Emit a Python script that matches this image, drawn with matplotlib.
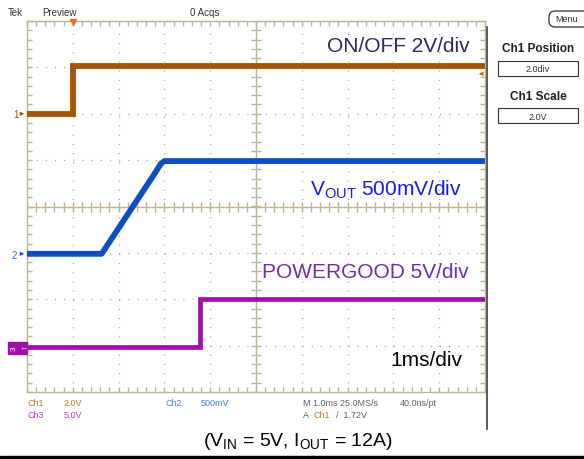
import numpy as np
import matplotlib.pyplot as plt
from matplotlib.lines import Line2D
from matplotlib.patches import Rectangle, FancyBboxPatch
from matplotlib.ticker import MultipleLocator

plt.rcParams['font.family'] = ['Liberation Sans', 'DejaVu Sans']
plt.rcParams['mathtext.fontset'] = 'custom'
plt.rcParams['mathtext.rm'] = 'Liberation Sans'
plt.rcParams['mathtext.it'] = 'Liberation Sans'

# time in ms (trigger at 0), voltages in V
t_ch1 = [-1.0, 0.0, 0.0, 9.0]
v_ch1 = [0.0, 0.0, 2.08, 2.08]
t_ch2 = [-1.0, 0.63, 1.82, 1.92, 2.0, 9.0]
v_ch2 = [0.0, 0.0, 0.89, 0.97, 1.0, 1.0]
t_ch3 = [-1.0, 2.77, 2.77, 9.0]
v_ch3 = [0.0, 0.0, 5.2, 5.2]

# channel scale (V/div) and position (div)
scale = {'ch1': 2.0, 'ch2': 0.5, 'ch3': 5.0}
pos = {'ch1': 2.0, 'ch2': -1.02, 'ch3': -3.04}
trig_level = 1.72

C1 = '#a95300'
C2 = '#0d4fc2'
C3 = '#a010a8'
GRAT = '#bdb594'

W, H = 584, 460
fx = lambda px: px / W
fy = lambda py: 1 - py / H

fig = plt.figure(figsize=(5.84, 4.6), dpi=100)
fig.patch.set_facecolor('white')
ax = fig.add_axes([fx(27), fy(393), 458 / W, 371 / H])
ax.set_xlim(-1, 9)
ax.set_ylim(-4, 4)

# graticule
for xv in range(0, 9):
    if xv != 4:
        ax.axvline(xv, color='#a8a890', lw=1, ls=(0, (0.8, 5.8)), zorder=1)
for yv in range(-3, 4):
    if yv != 0:
        ax.axhline(yv, color='#a8a890', lw=1, ls=(0, (0.8, 5.8)), zorder=1)
ax.axvline(4, color=GRAT, lw=1, zorder=1)
ax.axhline(0, color=GRAT, lw=1, zorder=1)
xt = np.arange(-1, 9.01, 0.2)
yt = np.arange(-4, 4.01, 0.2)
ax.plot(xt, np.zeros_like(xt), ls='none', marker='|', ms=7, mew=1, color=GRAT, zorder=1)
ax.plot(np.full_like(yt, 4), yt, ls='none', marker='_', ms=7, mew=1, color=GRAT, zorder=1)

for s in ax.spines.values():
    s.set_color(GRAT)
    s.set_linewidth(1)
ax.xaxis.set_major_locator(MultipleLocator(1))
ax.xaxis.set_minor_locator(MultipleLocator(0.2))
ax.yaxis.set_major_locator(MultipleLocator(1))
ax.yaxis.set_minor_locator(MultipleLocator(0.2))
ax.tick_params(which='both', direction='in', length=3.5, width=1, color=GRAT,
               top=True, right=True, labelleft=False, labelbottom=False)

# traces
ax.plot(t_ch1, np.array(v_ch1) / scale['ch1'] + pos['ch1'], color=C1, lw=4.2,
        solid_joinstyle='miter', solid_capstyle='butt', zorder=3)
ax.plot(t_ch2, np.array(v_ch2) / scale['ch2'] + pos['ch2'], color=C2, lw=4.2, zorder=3)
ax.plot(t_ch3, np.array(v_ch3) / scale['ch3'] + pos['ch3'], color=C3, lw=3.4,
        solid_joinstyle='miter', solid_capstyle='butt', zorder=3)

# trigger markers
ax.plot([0], [3.97], marker='v', ms=5, color='#f07020', clip_on=False, zorder=4)
ax.annotate('', xy=(8.8, trig_level / scale['ch1'] + pos['ch1']),
            xytext=(9.0, trig_level / scale['ch1'] + pos['ch1']),
            arrowprops=dict(arrowstyle='-|>', color='#d06a20', lw=1, mutation_scale=5))

# channel ground markers
ax.annotate('', xy=(-1, pos['ch1']), xytext=(-1.18, pos['ch1']), annotation_clip=False,
            arrowprops=dict(arrowstyle='-|>', color=C1, lw=0.8, mutation_scale=5))
fig.text(fx(13), fy(115), '1', color=C1, fontsize=7, va='center', ha='left')
ax.annotate('', xy=(-1, pos['ch2']), xytext=(-1.18, pos['ch2']), annotation_clip=False,
            arrowprops=dict(arrowstyle='-|>', color=C2, lw=0.8, mutation_scale=5))
fig.text(fx(12), fy(256), '2', color='#4070d0', fontsize=7, va='center', ha='left')
fig.patches.append(Rectangle((fx(8), fy(355)), fx(19), 12 / H, transform=fig.transFigure,
                             color=C3, zorder=2))
fig.text(fx(14), fy(349), '3', color='white', fontsize=6, va='center', ha='center',
         rotation=90, zorder=3)
fig.text(fx(23), fy(349), '\u2190', color='white', fontsize=6, va='center', ha='center', zorder=3)

# labels on screen
fig.text(fx(470), fy(46), 'ON/OFF 2V/div', color='#2a2a5e', fontsize=15, ha='right', va='center')
fig.text(fx(462), fy(190), 'V$_{\\mathrm{OUT}}$ 500mV/div', color='#1a1ae0', fontsize=15,
         ha='right', va='center')
fig.text(fx(469), fy(273), 'POWERGOOD 5V/div', color='#7030a0', fontsize=15, ha='right', va='center')
fig.text(fx(462), fy(360), '1ms/div', color='black', fontsize=15, ha='right', va='center')

# top status line
fig.text(fx(8), fy(13), 'Tek', color='#303030', fontsize=7, va='center')
fig.text(fx(42), fy(13), 'Preview', color='#303030', fontsize=7, va='center')
fig.text(fx(190), fy(13), '0 Acqs', color='#303030', fontsize=7, va='center')

# right side panel
fig.add_artist(Line2D([fx(487), fx(487)], [fy(28), fy(430)], color='#404040', lw=1.2))
fig.patches.append(FancyBboxPatch((5.49, (H - 28) / 100), 0.45, 0.16,
                                  boxstyle='round,pad=0,rounding_size=0.06',
                                  transform=fig.dpi_scale_trans, fc='white', ec='#303030', lw=0.9))
fig.text(fx(567), fy(20), 'Menu', color='#303030', fontsize=6.5, ha='center', va='center')
fig.text(fx(538), fy(49), 'Ch1 Position', color='#202020', fontsize=8.5, fontweight='bold',
         ha='center', va='center')
fig.patches.append(Rectangle((fx(498), fy(77)), fx(80), 15 / H, transform=fig.transFigure,
                             fc='white', ec='#303030', lw=0.8))
fig.text(fx(538), fy(70), '2.0div', color='#303030', fontsize=6.5, ha='center', va='center')
fig.text(fx(538), fy(97), 'Ch1 Scale', color='#202020', fontsize=8.5, fontweight='bold',
         ha='center', va='center')
fig.patches.append(Rectangle((fx(498), fy(124)), fx(80), 15 / H, transform=fig.transFigure,
                             fc='white', ec='#303030', lw=0.8))
fig.text(fx(538), fy(117), '2.0V', color='#303030', fontsize=6.5, ha='center', va='center')

# bottom readouts
fig.text(fx(27), fy(404), 'Ch1', color='#c07830', fontsize=6.5, va='center')
fig.text(fx(64), fy(404), '2.0V', color='#c07830', fontsize=6.5, va='center')
fig.text(fx(27), fy(416), 'Ch3', color='#b040c0', fontsize=6.5, va='center')
fig.text(fx(64), fy(416), '5.0V', color='#b040c0', fontsize=6.5, va='center')
fig.text(fx(165), fy(404), 'Ch2', color='#4080d0', fontsize=6.5, va='center')
fig.text(fx(201), fy(404), '500mV', color='#4080d0', fontsize=6.5, va='center')
fig.text(fx(303), fy(404), 'M 1.0ms 25.0MS/s', color='#606060', fontsize=6.5, va='center')
fig.text(fx(400), fy(404), '40.0ns/pt', color='#606060', fontsize=6.5, va='center')
fig.text(fx(303), fy(416), 'A', color='#606060', fontsize=6.5, va='center')
fig.text(fx(313), fy(416), 'Ch1', color='#c07830', fontsize=6.5, va='center')
fig.text(fx(336), fy(416), '/  1.72V', color='#606060', fontsize=6.5, va='center')

# caption and bottom bar
fig.text(fx(298), fy(442), '(V$_{\\mathrm{IN}}$ = 5V, I$_{\\mathrm{OUT}}$ = 12A)', color='black',
         fontsize=14, ha='center', va='center')
fig.patches.append(Rectangle((0, 0), 1, 3 / H, transform=fig.transFigure, color='black'))

fig.savefig('out.png', dpi=100)
plt.close(fig)
